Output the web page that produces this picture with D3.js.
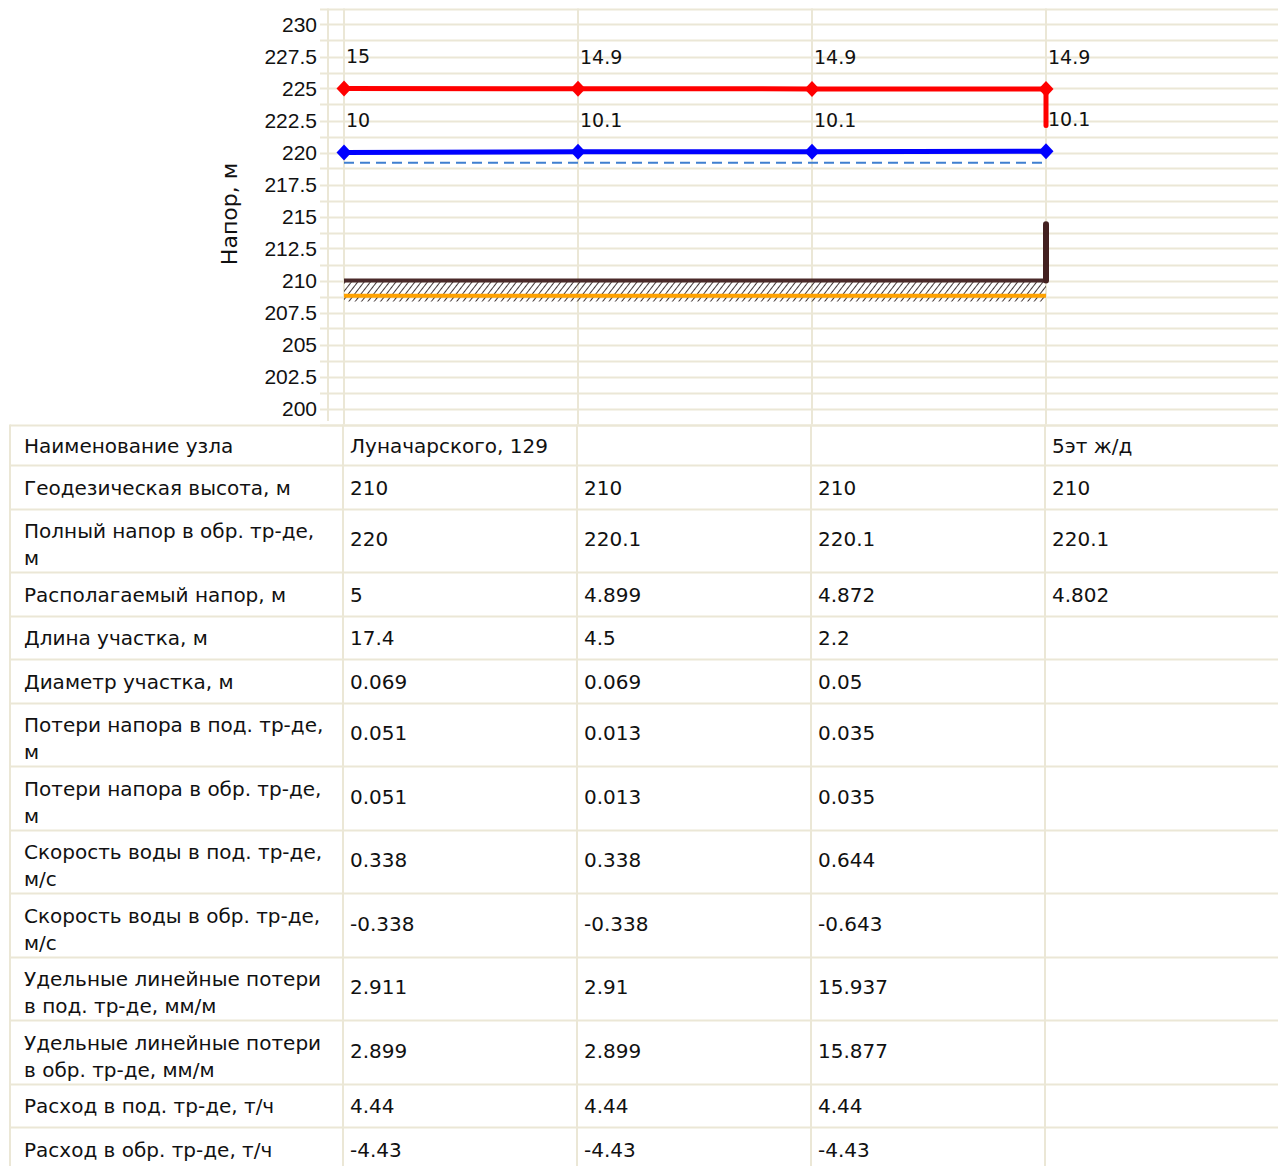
<!DOCTYPE html>
<html><head><meta charset="utf-8">
<script src="https://cdn.jsdelivr.net/npm/d3@7"></script>
<style>html,body{margin:0;padding:0;background:#fff;} svg{display:block;}</style>
</head><body>
<svg id="c" width="1278" height="1166"></svg>
<script>
// ---- data ----
const nodes = ["n1","n2","n3","n4"];
const supplyHead = [225, 224.98, 224.97, 224.96];
const supplyEndDrop = 222.1;
const returnHead = [220, 220.05, 220.064, 220.099];
const staticHead = [219.2, 219.2, 219.2, 219.2];
const groundLevel = [210, 210, 210, 210];
const pipeLevel = [208.8, 208.8, 208.8, 208.8];
const buildingTop = 214.4;
const supplyLabels = ["15", "14.9", "14.9", "14.9"];
const returnLabels = ["10", "10.1", "10.1", "10.1"];
const yTicks = [200, 202.5, 205, 207.5, 210, 212.5, 215, 217.5, 220, 222.5, 225, 227.5, 230];
const yGrid = d3.range(198.75, 231.26, 1.25);
const yTitle = "Напор, м";

const rowLabels = [
  ["Наименование узла"],
  ["Геодезическая высота, м"],
  ["Полный напор в обр. тр-де,", "м"],
  ["Располагаемый напор, м"],
  ["Длина участка, м"],
  ["Диаметр участка, м"],
  ["Потери напора в под. тр-де,", "м"],
  ["Потери напора в обр. тр-де,", "м"],
  ["Скорость воды в под. тр-де,", "м/с"],
  ["Скорость воды в обр. тр-де,", "м/с"],
  ["Удельные линейные потери", "в под. тр-де, мм/м"],
  ["Удельные линейные потери", "в обр. тр-де, мм/м"],
  ["Расход в под. тр-де, т/ч"],
  ["Расход в обр. тр-де, т/ч"]
];
const rowValues = [
  ["Луначарского, 129", "", "", "5эт ж/д"],
  ["210", "210", "210", "210"],
  ["220", "220.1", "220.1", "220.1"],
  ["5", "4.899", "4.872", "4.802"],
  ["17.4", "4.5", "2.2", ""],
  ["0.069", "0.069", "0.05", ""],
  ["0.051", "0.013", "0.035", ""],
  ["0.051", "0.013", "0.035", ""],
  ["0.338", "0.338", "0.644", ""],
  ["-0.338", "-0.338", "-0.643", ""],
  ["2.911", "2.91", "15.937", ""],
  ["2.899", "2.899", "15.877", ""],
  ["4.44", "4.44", "4.44", ""],
  ["-4.43", "-4.43", "-4.43", ""]
];

// ---- layout ----
const W = 1278, H = 1166;
const axisX = 328, tableTop = 424.5, tableLeft = 10;
const gridColor = "#ebe7d6";
const FONT = "'Liberation Sans', Arial, sans-serif";
const TFONT = "'DejaVu Sans', Verdana, sans-serif";

const svg = d3.select("#c");
svg.append("rect").attr("width", W).attr("height", H).attr("fill", "#fff");

const x = d3.scalePoint().domain(nodes).range([344, 1046]);
const y = d3.scaleLinear().domain([198.75, 231.25]).range([424.5, 8.5]);

// hatch pattern
const defs = svg.append("defs");
const pat = defs.append("pattern").attr("id", "hatch").attr("patternUnits", "userSpaceOnUse")
  .attr("width", 5).attr("height", 5).attr("patternTransform", "rotate(38)");
pat.append("line").attr("x1", 0).attr("y1", 0).attr("x2", 0).attr("y2", 5)
  .attr("stroke", "#2e2222").attr("stroke-width", 1.8);

// grid
const g = svg.append("g");
g.selectAll("line.hg").data(yGrid).join("line")
  .attr("x1", axisX - 8).attr("x2", W)
  .attr("y1", d => Math.round(y(d)) + 0.5).attr("y2", d => Math.round(y(d)) + 0.5)
  .attr("stroke", gridColor).attr("stroke-width", 2);
g.append("line").attr("x1", axisX).attr("x2", axisX).attr("y1", y(231.25)).attr("y2", 421)
  .attr("stroke", gridColor).attr("stroke-width", 2);
g.selectAll("line.vg").data(nodes).join("line")
  .attr("x1", d => x(d)).attr("x2", d => x(d)).attr("y1", y(231.25)).attr("y2", tableTop)
  .attr("stroke", gridColor).attr("stroke-width", 2);

// y axis labels
const yAxis = d3.axisLeft(y).tickValues(yTicks).tickSize(0).tickPadding(11)
  .tickFormat(d => String(d));
const ax = svg.append("g").attr("transform", `translate(${axisX},0)`).call(yAxis);
ax.select(".domain").remove();
ax.selectAll("text").attr("font-family", FONT).attr("font-size", 21).attr("fill", "#111");

svg.append("text").attr("transform", `translate(237,${y(215.2)}) rotate(-90)`)
  .attr("text-anchor", "middle").attr("font-family", TFONT).attr("font-size", 22)
  .attr("fill", "#111").text(yTitle);

// ground hatch area
const area = d3.area().x(d => x(d.n)).y0(d => y(d.p)).y1(d => y(d.g));
const gp = nodes.map((n, i) => ({n, g: groundLevel[i], p: pipeLevel[i] - 0.45}));
svg.append("path").datum(gp).attr("d", area).attr("fill", "url(#hatch)");

// pipe (orange)
const line = d3.line().x(d => d[0]).y(d => d[1]);
svg.append("path").datum(nodes.map((n, i) => [x(n), y(pipeLevel[i])]))
  .attr("d", line).attr("fill", "none").attr("stroke", "#ffa200").attr("stroke-width", 4);
// ground line
svg.append("path").datum(nodes.map((n, i) => [x(n), y(groundLevel[i])]))
  .attr("d", line).attr("fill", "none").attr("stroke", "#4a2a2a").attr("stroke-width", 4);
// building vertical
svg.append("line").attr("x1", x(nodes[3])).attr("x2", x(nodes[3]))
  .attr("y1", y(groundLevel[3])).attr("y2", y(buildingTop))
  .attr("stroke", "#432020").attr("stroke-width", 6).attr("stroke-linecap", "round");

// static head dashed
svg.append("path").datum(nodes.map((n, i) => [x(n), y(staticHead[i])]))
  .attr("d", line).attr("fill", "none").attr("stroke", "#3f7fd0").attr("stroke-width", 2)
  .attr("stroke-dasharray", "10,6");

// supply line
svg.append("line").attr("x1", x(nodes[3])).attr("x2", x(nodes[3]))
  .attr("y1", y(supplyHead[3])).attr("y2", y(supplyEndDrop))
  .attr("stroke", "#ff0000").attr("stroke-width", 5).attr("stroke-linecap", "round");
svg.append("path").datum(nodes.map((n, i) => [x(n), y(supplyHead[i])]))
  .attr("d", line).attr("fill", "none").attr("stroke", "#ff0000").attr("stroke-width", 5);
// return line
svg.append("path").datum(nodes.map((n, i) => [x(n), y(returnHead[i])]))
  .attr("d", line).attr("fill", "none").attr("stroke", "#0000ff").attr("stroke-width", 5);

const diamond = "M0,-8L7.5,0L0,8L-7.5,0Z";
svg.selectAll("path.ms").data(nodes).join("path").attr("d", diamond)
  .attr("transform", (d, i) => `translate(${x(d)},${y(supplyHead[i])})`).attr("fill", "#ff0000");
svg.selectAll("path.mr").data(nodes).join("path").attr("d", diamond)
  .attr("transform", (d, i) => `translate(${x(d)},${y(returnHead[i])})`).attr("fill", "#0000ff");

// value labels
svg.selectAll("text.ls").data(nodes).join("text")
  .attr("x", d => x(d) + 2).attr("y", (d, i) => y(supplyHead[i] + 2.5))
  .attr("dy", "0.36em").attr("font-family", TFONT).attr("font-size", 19).attr("fill", "#111")
  .text((d, i) => supplyLabels[i]);
svg.selectAll("text.lr").data(nodes).join("text")
  .attr("x", d => x(d) + 2).attr("y", (d, i) => y(returnHead[i] + 2.5))
  .attr("dy", "0.36em").attr("font-family", TFONT).attr("font-size", 19).attr("fill", "#111")
  .text((d, i) => returnLabels[i]);

// ---- table ----
const singleH = 43.5, doubleH = 63.5, headerH = 40.5;
let yy = tableTop;
const rows = rowLabels.map((lab, i) => {
  const h = i === 0 ? headerH : (lab.length > 1 ? doubleH : singleH);
  const r = {lab, vals: rowValues[i], y0: yy, h};
  yy += h;
  return r;
});
const tg = svg.append("g");
tg.selectAll("line.rh").data(rows).join("line")
  .attr("x1", tableLeft).attr("x2", W)
  .attr("y1", d => Math.round(d.y0) + 0.5).attr("y2", d => Math.round(d.y0) + 0.5)
  .attr("stroke", gridColor).attr("stroke-width", 2);
const colX = [tableLeft, ...nodes.map(n => x(n) - 1)];
tg.selectAll("line.cv").data(colX).join("line")
  .attr("x1", d => d).attr("x2", d => d).attr("y1", tableTop).attr("y2", H)
  .attr("stroke", gridColor).attr("stroke-width", 2);

const TF = 20;
rows.forEach(r => {
  const cy = r.y0 + r.h / 2 + 1;
  const t = tg.append("text").attr("font-family", TFONT).attr("font-size", TF).attr("fill", "#111");
  if (r.lab.length === 1) {
    t.append("tspan").attr("x", 24).attr("y", cy).attr("dy", "0.36em").text(r.lab[0]);
  } else {
    t.append("tspan").attr("x", 24).attr("y", cy - 10).attr("dy", "0.36em").text(r.lab[0]);
    t.append("tspan").attr("x", 24).attr("y", cy + 17).attr("dy", "0.36em").text(r.lab[1]);
  }
  r.vals.forEach((v, j) => {
    tg.append("text").attr("x", x(nodes[j]) + 6).attr("y", r.lab.length > 1 ? cy - 2 : cy)
      .attr("dy", "0.36em").attr("font-family", TFONT).attr("font-size", TF).attr("fill", "#111")
      .text(v);
  });
});
</script>
</body></html>
